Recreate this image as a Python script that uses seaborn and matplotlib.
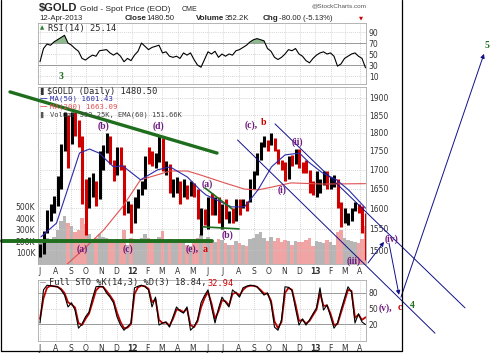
import numpy as np
import pandas as pd
import matplotlib
matplotlib.use("Agg")
import matplotlib.pyplot as plt
import matplotlib.dates as mdates
from matplotlib.lines import Line2D
from matplotlib.ticker import NullLocator
import seaborn as sns

# weekly samples (Jul 2011 - 12 Apr 2013)
weeks = pd.date_range("2011-07-01", "2013-04-12", freq="W-FRI")

close = [1500, 1542, 1594, 1601, 1628, 1660, 1745, 1840, 1800, 1850,
         1845, 1805, 1660, 1624, 1636, 1681, 1642, 1744, 1754, 1789,
         1724, 1690, 1746, 1713, 1598, 1606, 1566, 1616, 1639, 1664,
         1728, 1725, 1722, 1727, 1776, 1711, 1711, 1655, 1662, 1668,
         1632, 1660, 1642, 1663, 1644, 1581, 1592, 1573, 1622, 1590,
         1627, 1572, 1604, 1579, 1590, 1583, 1620, 1604, 1620, 1616,
         1671, 1692, 1738, 1770, 1773, 1772, 1781, 1757, 1724, 1711,
         1676, 1731, 1714, 1752, 1712, 1701, 1696, 1657, 1656, 1656,
         1662, 1684, 1657, 1667, 1667, 1609, 1572, 1572, 1577, 1592,
         1608, 1596, 1581, 1480]
high = [1515, 1545, 1597, 1610, 1632, 1682, 1770, 1858, 1850, 1860,
        1858, 1835, 1790, 1675, 1680, 1690, 1670, 1750, 1765, 1800,
        1790, 1725, 1760, 1760, 1712, 1620, 1612, 1630, 1648, 1670,
        1735, 1760, 1750, 1745, 1790, 1785, 1722, 1715, 1674, 1680,
        1670, 1676, 1660, 1670, 1665, 1650, 1600, 1598, 1630, 1640,
        1630, 1628, 1610, 1625, 1595, 1600, 1625, 1625, 1625, 1620,
        1675, 1695, 1745, 1775, 1790, 1780, 1800, 1785, 1755, 1725,
        1720, 1735, 1740, 1755, 1755, 1720, 1725, 1700, 1670, 1695,
        1675, 1695, 1695, 1680, 1685, 1675, 1615, 1600, 1590, 1600,
        1615, 1612, 1605, 1590]
low = [1483, 1490, 1540, 1570, 1590, 1605, 1650, 1750, 1705, 1770,
       1790, 1760, 1610, 1535, 1600, 1630, 1605, 1625, 1700, 1745,
       1715, 1670, 1685, 1700, 1585, 1590, 1540, 1565, 1600, 1635,
       1650, 1715, 1710, 1705, 1720, 1695, 1685, 1640, 1630, 1640,
       1612, 1630, 1625, 1632, 1630, 1575, 1535, 1560, 1550, 1585,
       1585, 1565, 1550, 1575, 1565, 1565, 1570, 1585, 1600, 1595,
       1615, 1650, 1685, 1725, 1760, 1750, 1765, 1750, 1715, 1700,
       1670, 1675, 1710, 1715, 1705, 1690, 1690, 1640, 1635, 1630,
       1640, 1660, 1650, 1650, 1655, 1600, 1555, 1565, 1560, 1570,
       1595, 1590, 1540, 1478]
volume_k = [180, 200, 230, 210, 240, 300, 380, 420, 360, 330,
            280, 300, 400, 350, 260, 220, 230, 260, 240, 230,
            210, 190, 220, 200, 300, 170, 230, 220, 200, 230,
            260, 230, 200, 190, 240, 290, 210, 220, 180, 190,
            200, 180, 170, 160, 190, 230, 260, 210, 240, 200,
            190, 220, 210, 180, 170, 170, 200, 180, 170, 160,
            220, 230, 260, 280, 230, 200, 240, 200, 230, 190,
            210, 200, 170, 200, 190, 190, 210, 230, 160, 200,
            190, 180, 210, 190, 170, 280, 300, 230, 210, 200,
            190, 180, 220, 330]
rsi = [36, 60, 68, 66, 72, 76, 80, 84, 70, 66,
       60, 55, 42, 39, 44, 48, 46, 56, 57, 58,
       52, 48, 52, 46, 36, 42, 38, 48, 55, 70,
       64, 58, 62, 64, 66, 52, 54, 46, 44, 46,
       42, 52, 48, 52, 40, 30, 26, 40, 54, 50,
       55, 44, 50, 46, 50, 48, 56, 58, 62, 66,
       72, 76, 78, 76, 74, 60, 55, 44, 40, 44,
       50, 58, 56, 60, 50, 46, 38, 34, 42, 48,
       52, 54, 50, 52, 46, 28, 32, 42, 46, 50,
       52, 46, 42, 25]
sto_k = [22, 86, 95, 94, 93, 92, 86, 76, 53, 61,
         47, 12, 20, 34, 43, 70, 92, 93, 92, 80,
         72, 61, 34, 18, 8, 15, 22, 90, 93, 95,
         92, 86, 53, 72, 18, 22, 24, 14, 34, 53,
         45, 41, 53, 8, 15, 28, 61, 75, 86, 53,
         22, 50, 72, 62, 53, 86, 80, 72, 90, 93,
         95, 94, 92, 84, 76, 80, 61, 14, 8, 28,
         92, 91, 85, 50, 18, 30, 18, 28, 40, 51,
         90, 47, 57, 35, 12, 22, 47, 70, 92, 82,
         22, 40, 24, 19]
sto_d = [30, 70, 90, 94, 93, 92, 88, 80, 62, 58,
         52, 22, 18, 30, 40, 62, 85, 92, 92, 84,
         75, 65, 42, 24, 12, 13, 20, 78, 91, 94,
         93, 88, 62, 68, 28, 22, 23, 17, 30, 48,
         47, 43, 50, 18, 14, 25, 52, 70, 82, 60,
         30, 45, 66, 64, 56, 78, 81, 75, 86, 92,
         94, 94, 92, 86, 79, 79, 65, 25, 12, 24,
         80, 90, 86, 58, 26, 28, 21, 26, 37, 48,
         80, 55, 56, 40, 18, 20, 42, 64, 86, 84,
         32, 38, 28, 33]

ma50_dates = ["2011-07-03", "2011-08-03", "2011-09-18", "2011-10-08", "2011-10-27",
              "2011-11-25", "2011-12-13", "2012-01-18", "2012-02-21", "2012-03-17",
              "2012-04-21", "2012-05-16", "2012-05-28", "2012-06-19", "2012-07-18",
              "2012-08-13", "2012-09-09", "2012-10-06", "2012-11-02", "2012-12-01",
              "2012-12-19", "2013-01-16", "2013-02-13", "2013-03-09", "2013-04-12"]
ma50 = [1531, 1564, 1744, 1755, 1744, 1707, 1710, 1673, 1699, 1707,
        1680, 1647, 1634, 1621, 1604, 1604, 1647, 1707, 1739, 1744,
        1720, 1691, 1673, 1647, 1601]
ma200_dates = ["2011-07-21", "2011-08-22", "2011-10-01", "2011-11-05", "2011-12-13",
               "2012-01-18", "2012-02-21", "2012-03-17", "2012-04-21", "2012-05-16",
               "2012-07-04", "2012-08-13", "2012-09-09", "2012-10-06", "2012-11-14",
               "2013-01-16", "2013-04-12"]
ma200 = [1420, 1465, 1507, 1547, 1604, 1673, 1686, 1696, 1696, 1686,
         1665, 1649, 1647, 1654, 1665, 1662, 1663]

# hand-drawn wave annotations (date, price)
green_trend = (["2011-05-02", "2012-06-19"], [1918, 1744])
green_base = (["2011-04-16", "2012-06-09"], [1521, 1521])
green_tri_top = (["2012-05-26", "2012-07-19"], [1652, 1599])
green_tri_bot = (["2012-05-22", "2012-08-02"], [1555, 1550])
blue_chan_low = (["2012-07-30", "2013-08-29"], [1780, 1318])
blue_chan_up = (["2012-10-13", "2013-10-28"], [1825, 1371])
arrows = [(("2013-04-17", 1470), ("2013-05-19", 1519)),
          (("2013-05-29", 1516), ("2013-06-18", 1399)),
          (("2013-06-22", 1394), ("2013-12-05", 2035))]
wave_labels = [("2011-09-23", 1502, "(a)", "purple"), ("2011-11-06", 1819, "(b)", "purple"),
               ("2011-12-24", 1502, "(c)", "purple"), ("2012-02-22", 1819, "(d)", "purple"),
               ("2012-04-30", 1502, "(e),", "purple"), ("2012-05-26", 1502, "a", "red"),
               ("2012-05-30", 1662, "(a)", "purple"), ("2012-07-11", 1535, "(b)", "purple"),
               ("2012-08-26", 1822, "(c),", "purple"), ("2012-09-21", 1828, "b", "red"),
               ("2012-10-27", 1647, "(i)", "purple"), ("2012-11-26", 1774, "(ii)", "purple"),
               ("2013-03-20", 1474, "(iii)", "purple"), ("2013-06-03", 1525, "(iv)", "purple"),
               ("2013-05-22", 1371, "(v),", "purple"), ("2013-06-19", 1371, "c", "red"),
               ("2013-07-14", 1375, "4", "green"), ("2013-12-11", 2063, "5", "green"),
               ("2011-08-12", 1966, "3", "green")]

sns.set_style("white")
plt.rcParams["font.family"] = ["DejaVu Sans"]

W, H = 497, 354
fig = plt.figure(figsize=(W / 100, H / 100), dpi=100)
fig.patch.set_facecolor("white")


def box(x0, y0, x1, y1):
    return [x0 / W, 1 - y1 / H, (x1 - x0) / W, (y1 - y0) / H]


def ftext(x, y, s, **kw):
    kw.setdefault("va", "center")
    fig.text(x / W, 1 - y / H, s, **kw)


months = pd.date_range("2011-07-01", "2013-04-01", freq="MS")
month_labels = [d.strftime("%y") if d.month == 1 else d.strftime("%b")[0] for d in months]
x_lo, x_hi = pd.Timestamp("2011-06-27"), pd.Timestamp("2013-04-13")
grid_kw = dict(color="#c8c8c8", linestyle=(0, (1, 1.5)), linewidth=0.6)
colors = {"purple": "#6e1a80", "red": "#cc0000", "green": "#1e6e1e"}
navy = "#10108a"


def style_panel(ax, show_x):
    ax.set_facecolor("none")
    ax.set_xlim(x_lo, x_hi)
    ax.set_xticks(months)
    if show_x:
        ax.set_xticklabels(month_labels)
        for lab, d in zip(ax.get_xticklabels(), months):
            if d.month == 1:
                lab.set_fontweight("bold")
    else:
        ax.set_xticklabels([])
    ax.grid(True, axis="x", **grid_kw)
    ax.set_xlabel("")
    ax.set_ylabel("")
    for s in ax.spines.values():
        s.set_color("#a8a8a8")
        s.set_linewidth(0.6)
    ax.tick_params(length=0, labelsize=5.5, pad=2, colors="#333333")


# RSI panel
ax_rsi = fig.add_axes(box(38, 23, 366, 84))
rsi_arr = np.array(rsi)
ax_rsi.fill_between(weeks, 70, rsi_arr, where=rsi_arr > 70, interpolate=True,
                    color="#8dbb8d", linewidth=0)
ax_rsi.axhline(70, color="#9a9a9a", lw=0.7)
ax_rsi.axhline(30, color="#9a9a9a", lw=0.7)
sns.lineplot(x=weeks, y=rsi, ax=ax_rsi, color="black", linewidth=0.8)
ax_rsi.set_ylim(-4.5, 106.4)
ax_rsi.yaxis.tick_right()
ax_rsi.set_yticks([10, 30, 50, 70, 90])
ax_rsi.grid(True, axis="y", **grid_kw)
style_panel(ax_rsi, False)

# main panel: volume underneath, price on the twin log axis
ax_vol = fig.add_axes(box(38, 87, 366, 264))
up = [True] + [close[i] >= close[i - 1] for i in range(1, len(close))]
vol_colors = ["#a9a9a9" if u else "#ee9494" for u in up]
ax_vol.bar(weeks, volume_k, width=7, color=vol_colors, linewidth=0, alpha=0.85)
ax_vol.set_ylim(0, 500 * 177 / 57)
ax_vol.set_yticks([100, 200, 300, 400, 500])
ax_vol.set_yticklabels([f"{v}K" for v in [100, 200, 300, 400, 500]])
style_panel(ax_vol, True)

ax_p = ax_vol.twinx()
ax_p.set_yscale("log")
bar_colors = ["black" if u else "#d00000" for u in up]
ax_p.vlines(weeks, low, high, colors=bar_colors, linewidth=2.2)
sns.lineplot(x=pd.to_datetime(ma200_dates), y=ma200, ax=ax_p, color="#e05050", linewidth=0.8)
sns.lineplot(x=pd.to_datetime(ma50_dates), y=ma50, ax=ax_p, color="#2b2ba8", linewidth=0.8)
ax_p.set_ylim(1467.7, 1932.7)
ax_p.set_xlim(x_lo, x_hi)
ax_p.set_yticks([1500, 1550, 1600, 1650, 1700, 1750, 1800, 1850, 1900])
ax_p.set_yticklabels([str(v) for v in [1500, 1550, 1600, 1650, 1700, 1750, 1800, 1850, 1900]])
ax_p.yaxis.set_minor_locator(NullLocator())
ax_p.grid(True, axis="y", **grid_kw)
ax_p.set_ylabel("")
ax_p.tick_params(length=0, labelsize=5.5, pad=2, colors="#333333")
for s in ax_p.spines.values():
    s.set_visible(False)

# wave annotations
for (dts, prices), col, lw in [(green_trend, colors["green"], 2.4), (green_base, colors["green"], 2.8),
                               (green_tri_top, colors["green"], 1.2), (green_tri_bot, colors["green"], 1.2),
                               (blue_chan_low, navy, 0.7), (blue_chan_up, navy, 0.7)]:
    ax_p.plot(pd.to_datetime(dts), prices, color=col, lw=lw, clip_on=False, zorder=5)
for (d0, p0), (d1, p1) in arrows:
    ax_p.annotate("", xy=(mdates.date2num(pd.Timestamp(d1)), p1),
                  xytext=(mdates.date2num(pd.Timestamp(d0)), p0),
                  arrowprops=dict(arrowstyle="-|>", color=navy, lw=0.7, mutation_scale=6,
                                  shrinkA=0, shrinkB=0),
                  annotation_clip=False, zorder=6)
for d, p, s, c in wave_labels:
    ax_p.text(mdates.date2num(pd.Timestamp(d)), p, s, color=colors[c], fontsize=7,
              fontweight="bold", family="Liberation Serif", ha="center", va="center",
              clip_on=False, zorder=7)

# STO panel
ax_sto = fig.add_axes(box(38, 280, 366, 341))
ax_sto.axhline(80, color="#9a9a9a", lw=0.7)
ax_sto.axhline(20, color="#9a9a9a", lw=0.7)
sns.lineplot(x=weeks, y=sto_d, ax=ax_sto, color="#c00000", linewidth=1.3)
sns.lineplot(x=weeks, y=sto_k, ax=ax_sto, color="black", linewidth=0.8)
ax_sto.set_ylim(-12.8, 105.1)
ax_sto.yaxis.tick_right()
ax_sto.set_yticks([20, 50, 80])
ax_sto.grid(True, axis="y", **grid_kw)
style_panel(ax_sto, True)

# header and panel legends
mono = "DejaVu Sans Mono"
ftext(39, 11, "$GOLD", fontsize=8, fontweight="bold", family="Liberation Sans", va="baseline")
ftext(80, 11, "Gold - Spot Price (EOD)", fontsize=6, family="Liberation Sans", va="baseline")
ftext(182, 11, "CME", fontsize=5, family="Liberation Sans", va="baseline")
ftext(312, 7, "@StockCharts.com", fontsize=4.6, color="#555555", family="Liberation Sans", va="baseline")
ftext(39, 19.5, "12-Apr-2013", fontsize=5.6, family="Liberation Sans", va="baseline")
ftext(125, 19.5, "Close", fontsize=5.8, fontweight="bold", family="Liberation Sans", va="baseline")
ftext(146, 19.5, "1480.50", fontsize=5.6, family="Liberation Sans", va="baseline")
ftext(196, 19.5, "Volume", fontsize=5.8, fontweight="bold", family="Liberation Sans", va="baseline")
ftext(225, 19.5, "352.2K", fontsize=5.6, family="Liberation Sans", va="baseline")
ftext(263, 19.5, "Chg", fontsize=5.8, fontweight="bold", family="Liberation Sans", va="baseline")
ftext(279, 19.5, "-80.00 (-5.13%)", fontsize=5.6, family="Liberation Sans", va="baseline")
ftext(359, 18, "\u25bc", fontsize=3.8, color="#cc0000")

ftext(40, 28, "\u25b2", fontsize=4, color="#2e7d32")
ftext(48, 28, "RSI(14) 25.14", fontsize=6.3, family=mono)
ftext(40, 91, "\u258c", fontsize=5, color="#333333")
ftext(47, 91, "$GOLD (Daily) 1480.50", fontsize=6.3, family=mono)
ftext(40, 99, "\u2014", fontsize=5.5, color="#2b2ba8")
ftext(50, 99, "MA(50) 1601.43", fontsize=5.3, family=mono, color="#2b2ba8")
ftext(40, 107, "\u2014", fontsize=5.5, color="#e05050")
ftext(50, 107, "MA(200) 1663.09", fontsize=5.3, family=mono, color="#e05050")
ftext(40, 115, "\u258c", fontsize=4.5, color="#555555")
ftext(50, 115, "Volume 352.25K, EMA(60) 151.66K", fontsize=5.1, family=mono, color="#444444")
ftext(40, 283, "\u2014", fontsize=4.5)
ftext(49, 283, "Full STO %K(14,3) %D(3) 18.84,", fontsize=6.2, family=mono)
ftext(207, 283, "32.94", fontsize=6.2, family=mono, color="#cc0000")

# outer chart frame
for xs, ys in [([1, 1], [0, 351]), ([402, 402], [0, 351]), ([1, 402], [351, 351])]:
    fig.add_artist(Line2D([x / W for x in xs], [1 - y / H for y in ys], color="black", lw=0.9))

fig.savefig("out.png", dpi=100, facecolor="white")
